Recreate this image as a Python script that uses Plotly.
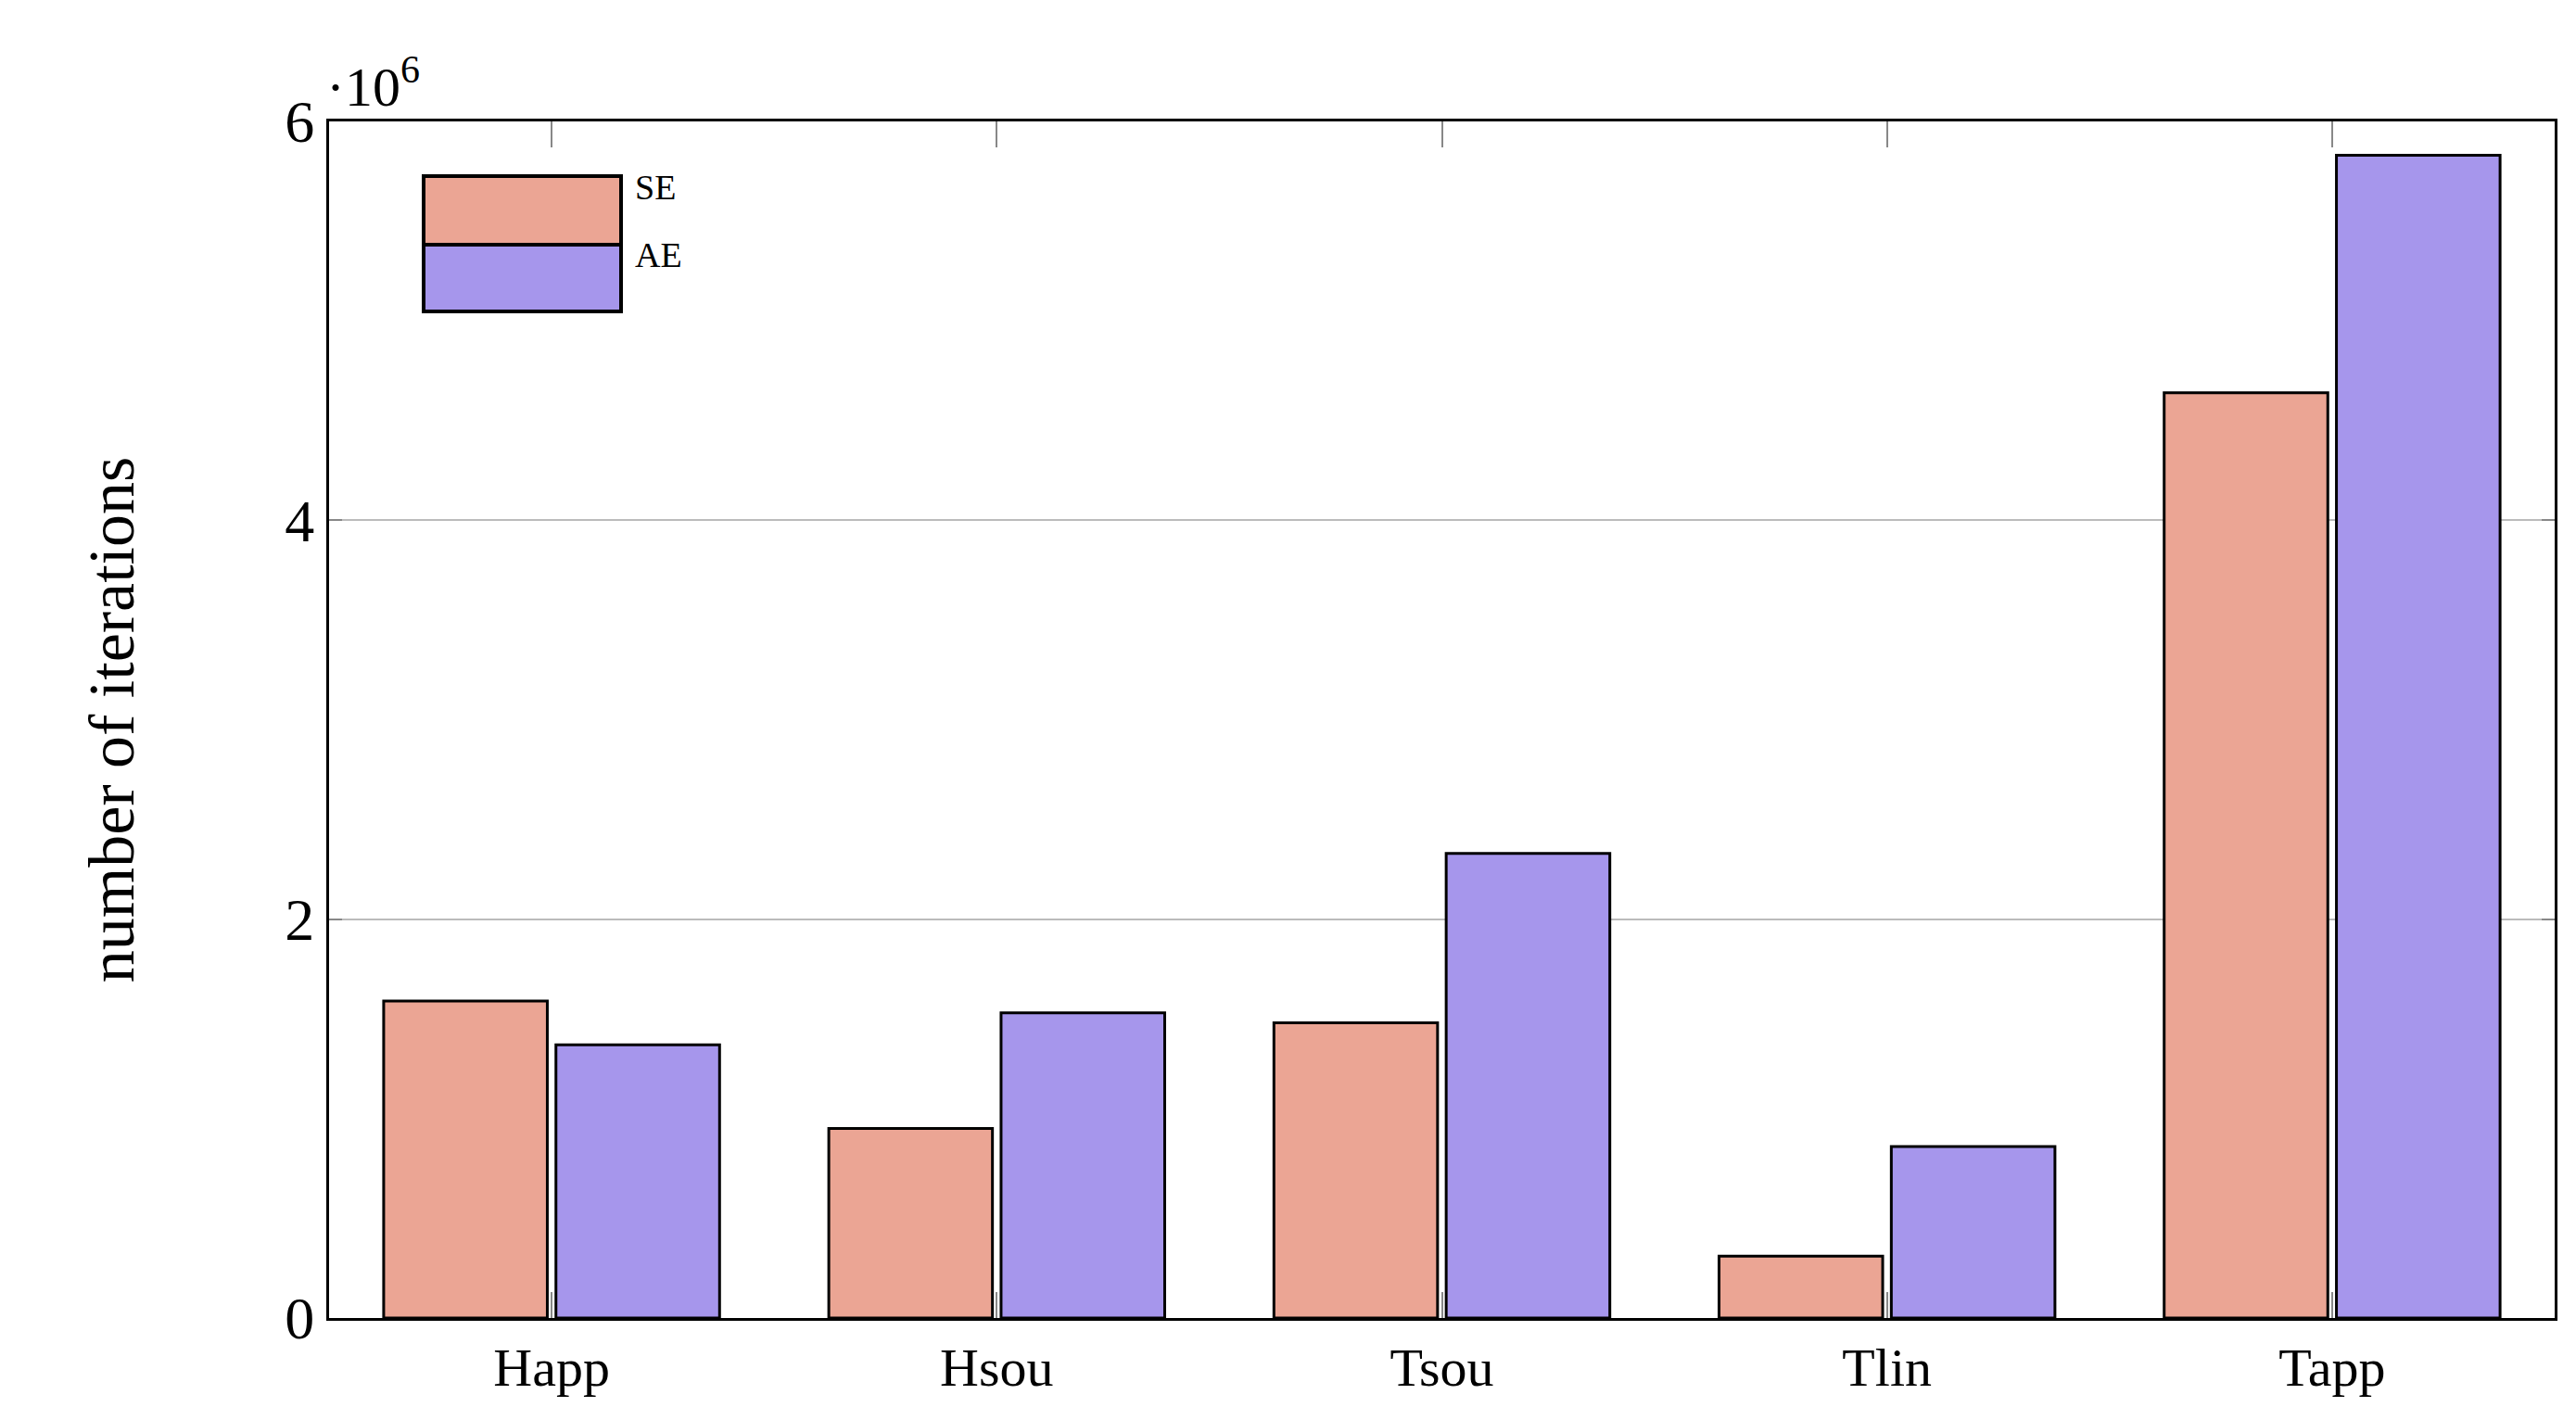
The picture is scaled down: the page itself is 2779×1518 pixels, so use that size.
import plotly.graph_objects as go

categories = ["Happ", "Hsou", "Tsou", "Tlin", "Tapp"]
se_values = [1.59e6, 0.95e6, 1.48e6, 0.31e6, 4.64e6]
ae_values = [1.37e6, 1.53e6, 2.33e6, 0.86e6, 5.83e6]
y_ticks = [0, 2e6, 4e6, 6e6]
y_tick_labels = ["0", "2", "4", "6"]

SE_COLOR = "#eba594"
AE_COLOR = "#a696ec"
FONT = "Liberation Serif"

fig = go.Figure()
fig.add_bar(x=categories, y=se_values, name="SE", marker=dict(color=SE_COLOR, line=dict(color="black", width=3)))
fig.add_bar(x=categories, y=ae_values, name="AE", marker=dict(color=AE_COLOR, line=dict(color="black", width=3)))

L, R, T, B = 347, 2779 - 2748, 123, 1518 - 1414
fig.update_layout(
    width=2779, height=1518, plot_bgcolor="white", paper_bgcolor="white",
    margin=dict(l=L, r=R, t=T, b=B),
    barmode="group", bargap=0.226, bargroupgap=0.05,
    showlegend=False,
    font=dict(family=FONT, color="black", size=56),
)
fig.update_xaxes(showline=True, linecolor="black", linewidth=3, mirror="ticks",
                 ticks="inside", ticklen=28, tickcolor="#888", tickwidth=2,
                 tickfont=dict(size=58), range=[-0.5, 4.5])
fig.update_yaxes(showline=True, linecolor="black", linewidth=3, mirror="ticks",
                 ticks="inside", ticklen=14, tickcolor="#888", tickwidth=2,
                 range=[0, 6e6], tickvals=y_ticks, ticktext=y_tick_labels,
                 showgrid=True, gridcolor="#bbbbbb", gridwidth=2,
                 tickfont=dict(size=64), zeroline=False,
                 title=dict(text="number of iterations", font=dict(size=70), standoff=140))

fig.add_annotation(xref="paper", yref="paper", x=0, y=1, xanchor="left", yanchor="bottom",
                   xshift=-5, yshift=2, text="·10<sup>6</sup>", showarrow=False, font=dict(size=60))

# legend box
pw = 2779 - L - R
ph = 1518 - T - B
def px(x): return (x - L) / pw
def py(y): return 1 - (y - T) / ph
for (y0, y1, col, name) in [(182, 256, SE_COLOR, "SE"), (256, 328, AE_COLOR, "AE")]:
    fig.add_shape(type="rect", xref="paper", yref="paper", x0=px(449), x1=px(662), y0=py(y1), y1=py(y0),
                  fillcolor=col, line=dict(color="black", width=4))
    fig.add_annotation(xref="paper", yref="paper", x=px(675), y=py((y0 + y1) / 2), xanchor="left",
                       yanchor="middle", yshift=25,
                       text=name, showarrow=False, font=dict(size=38))

fig.write_html("out.html")
